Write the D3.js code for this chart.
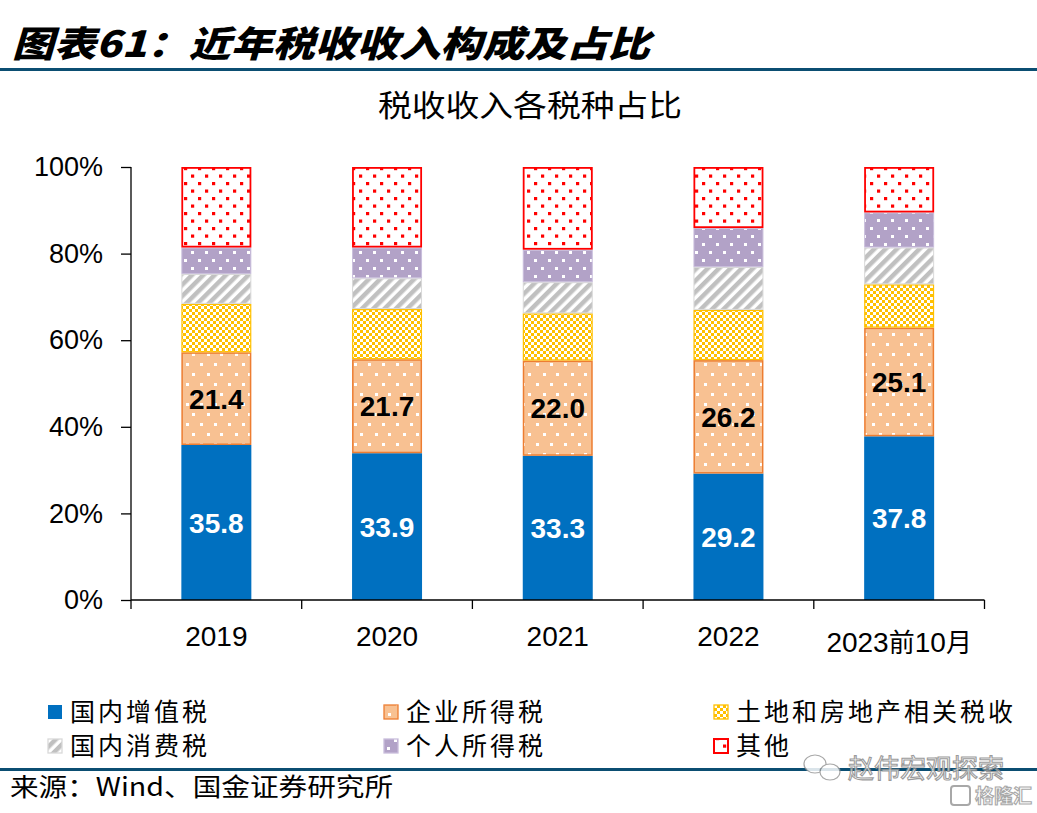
<!DOCTYPE html>
<html><head><meta charset="utf-8">
<script src="https://cdn.jsdelivr.net/npm/d3@7/dist/d3.min.js"></script>
<style>html,body{margin:0;padding:0;background:#fff;}svg{display:block;}</style>
</head><body>
<svg id="chart" width="1037" height="813"></svg>
<script>
// ---- data ----
const categories = ["2019", "2020", "2021", "2022", "2023前10月"];
const seriesNames = ["国内增值税", "企业所得税", "土地和房地产相关税收", "国内消费税", "个人所得税", "其他"];
const vat        = [35.8, 33.9, 33.3, 29.2, 37.8];
const corpTax    = [21.4, 21.7, 22.0, 26.2, 25.1];
const landTax    = [11.2, 11.6, 10.9, 11.6, 10.0];
const consTax    = [6.9, 7.1, 7.2, 9.9, 8.5];
const personTax  = [6.1, 7.1, 7.5, 9.0, 8.1];
const otherTax   = [18.6, 18.6, 19.1, 14.1, 10.5];
const yTicks = [0, 20, 40, 60, 80, 100];
const titleText = "图表61：近年税收收入构成及占比";
const subTitle = "税收收入各税种占比";
const sourceText = "来源：Wind、国金证券研究所";

const keys = ["vat", "corp", "land", "cons", "person", "other"];
const seriesArrays = [vat, corpTax, landTax, consTax, personTax, otherTax];
const table = categories.map((c, i) => {
  const row = {cat: c};
  keys.forEach((k, j) => row[k] = seriesArrays[j][i]);
  return row;
});

const svg = d3.select("#chart");
const defs = svg.append("defs");

// patterns
function dotPattern(id, bg, dot, w, h, pts, sz) {
  const p = defs.append("pattern").attr("id", id).attr("patternUnits", "userSpaceOnUse")
    .attr("width", w).attr("height", h);
  p.append("rect").attr("width", w).attr("height", h).attr("fill", bg);
  pts.forEach(([x, y]) => p.append("rect").attr("x", x).attr("y", y).attr("width", sz).attr("height", sz).attr("fill", dot));
}
dotPattern("pRed", "#ffffff", "#ff0000", 14, 15, [[2, 2], [9, 9.5]], 3.2);
dotPattern("pPurple", "#b2a2c7", "#ffffff", 14, 16, [[2, 3], [9, 11]], 3);
dotPattern("pOrange", "#f8c192", "#ffffff", 28, 20, [[4, 3], [18, 3], [11, 13], [24, 13]], 3);
(function () {
  const p = defs.append("pattern").attr("id", "pYellow").attr("patternUnits", "userSpaceOnUse")
    .attr("width", 6).attr("height", 6);
  p.append("rect").attr("width", 6).attr("height", 6).attr("fill", "#ffffff");
  p.append("rect").attr("width", 3).attr("height", 3).attr("fill", "#ffc000");
  p.append("rect").attr("x", 3).attr("y", 3).attr("width", 3).attr("height", 3).attr("fill", "#ffc000");
})();
(function () {
  const p = defs.append("pattern").attr("id", "pGrey").attr("patternUnits", "userSpaceOnUse")
    .attr("width", 8).attr("height", 8).attr("patternTransform", "rotate(45)");
  p.append("rect").attr("width", 8).attr("height", 8).attr("fill", "#ffffff");
  p.append("rect").attr("width", 4.5).attr("height", 8).attr("fill", "#c0c0c0");
})();

const fills = {vat: "#0070c0", corp: "url(#pOrange)", land: "url(#pYellow)", cons: "url(#pGrey)", person: "url(#pPurple)", other: "url(#pRed)"};
const strokes = {vat: "#0070c0", corp: "#ed7d31", land: "#ffc000", cons: "#d9d9d9", person: "#c9bedc", other: "#ff0000"};
const strokeW = {vat: 0, corp: 1.5, land: 1.2, cons: 1, person: 1, other: 1.8};

// ---- header ----
svg.append("text").attr("x", 12).attr("y", 57).text(titleText)
  .attr("font-family", "'Noto Sans CJK SC'").attr("font-weight", 900).attr("font-style", "italic")
  .attr("font-size", 36).attr("textLength", 638).attr("lengthAdjust", "spacingAndGlyphs").attr("fill", "#000");
svg.append("rect").attr("x", 0).attr("y", 68).attr("width", 1037).attr("height", 3).attr("fill", "#0b4e72");

svg.append("text").attr("x", 530).attr("y", 116).attr("text-anchor", "middle").text(subTitle)
  .attr("font-family", "'Noto Sans CJK SC'").attr("font-size", 30).attr("textLength", 304)
  .attr("lengthAdjust", "spacingAndGlyphs").attr("fill", "#000");

// ---- scales ----
const x = d3.scaleBand().domain(categories).range([131, 984.5]).padding(0);
const y = d3.scaleLinear().domain([0, 100]).range([600, 167]);
const barW = x.bandwidth() * 0.41;

const stack = d3.stack().keys(keys);
const layers = stack(table);

const g = svg.append("g");
layers.forEach(layer => {
  const k = layer.key;
  g.selectAll(null).data(layer).enter().append("rect")
    .attr("x", d => x(d.data.cat) + (x.bandwidth() - barW) / 2 + strokeW[k] / 2)
    .attr("y", d => y(d[1]) + strokeW[k] / 2)
    .attr("width", barW - strokeW[k])
    .attr("height", d => Math.max(0, y(d[0]) - y(d[1]) - strokeW[k]))
    .attr("fill", fills[k])
    .attr("stroke", strokeW[k] ? strokes[k] : "none")
    .attr("stroke-width", strokeW[k]);
});

// value labels
const labelFont = "'Liberation Sans', Arial, sans-serif";
[["vat", "#ffffff"], ["corp", "#000000"]].forEach(([k, col]) => {
  const layer = layers.find(l => l.key === k);
  g.selectAll(null).data(layer).enter().append("text")
    .attr("x", d => x(d.data.cat) + x.bandwidth() / 2)
    .attr("y", d => (y(d[0]) + y(d[1])) / 2)
    .attr("dy", "0.36em")
    .attr("text-anchor", "middle")
    .attr("font-family", labelFont).attr("font-weight", "bold").attr("font-size", 28)
    .attr("fill", col)
    .text(d => (d[1] - d[0]).toFixed(1));
});

// axes
const yAxis = d3.axisLeft(y).tickValues(yTicks).tickFormat(d => d + "%").tickSize(10).tickPadding(18);
const ya = svg.append("g").attr("transform", "translate(131,0)").call(yAxis);
ya.select(".domain").attr("d", "M0,167V600").attr("stroke", "#000").attr("stroke-width", 1.3);
ya.selectAll(".tick line").attr("stroke", "#000").attr("stroke-width", 1.3);
ya.selectAll(".tick text").attr("font-family", labelFont).attr("font-size", 27).attr("fill", "#000");

const xa = svg.append("g").attr("transform", "translate(0,600)");
xa.append("line").attr("x1", 131).attr("x2", 984.5).attr("stroke", "#000").attr("stroke-width", 1.3);
const bounds = categories.map(c => x(c)).concat([x(categories[categories.length - 1]) + x.bandwidth()]);
xa.selectAll(null).data(bounds).enter().append("line")
  .attr("x1", d => d).attr("x2", d => d).attr("y1", 0).attr("y2", 9)
  .attr("stroke", "#000").attr("stroke-width", 1.3);
xa.selectAll(null).data(categories).enter().append("text")
  .attr("x", d => x(d) + x.bandwidth() / 2)
  .attr("y", (d, i) => i === categories.length - 1 ? 52 : 46)
  .attr("text-anchor", "middle")
  .attr("font-family", labelFont).attr("font-size", 28).attr("fill", "#000")
  .each(function (d) {
    const t = d3.select(this);
    const m = d.match(/^(\d{4})(前)(\d+)(月)$/);
    if (m) {
      t.append("tspan").text(m[1]);
      t.append("tspan").text(m[2]).attr("font-family", "'Noto Sans CJK SC'").attr("font-size", 26);
      t.append("tspan").text(m[3]);
      t.append("tspan").text(m[4]).attr("font-family", "'Noto Sans CJK SC'").attr("font-size", 26);
    } else t.text(d);
  });

// legend
const legPos = [[47, 712], [383, 712], [713, 712], [47, 746], [383, 746], [713, 746]];
const legendOrder = ["vat", "corp", "land", "cons", "person", "other"];
const lg = svg.append("g");
legendOrder.forEach((k, i) => {
  const [lx, ly] = legPos[i];
  lg.append("rect").attr("x", lx + 1).attr("y", ly - 7).attr("width", 14).attr("height", 14)
    .attr("fill", fills[k]).attr("stroke", k === "vat" ? "none" : strokes[k]).attr("stroke-width", k === "other" ? 2 : 1.3);
  lg.append("text").attr("x", lx + 23).attr("y", ly).attr("dy", "0.36em")
    .attr("font-family", "'Noto Sans CJK SC'").attr("font-size", 25).attr("letter-spacing", 3)
    .attr("fill", "#000").text(seriesNames[i]);
});

// footer
svg.append("rect").attr("x", 0).attr("y", 768).attr("width", 1037).attr("height", 3).attr("fill", "#0b4e72");
svg.append("text").attr("x", 10).attr("y", 796).text(sourceText)
  .attr("font-family", "'Noto Sans CJK SC'").attr("font-size", 25).attr("textLength", 383)
  .attr("lengthAdjust", "spacingAndGlyphs").attr("fill", "#000");

// watermark
const wm = svg.append("g").attr("opacity", 0.85);
wm.append("ellipse").attr("cx", 815).attr("cy", 764).attr("rx", 11).attr("ry", 9).attr("fill", "#fff").attr("stroke", "#999").attr("stroke-width", 1.2);
wm.append("ellipse").attr("cx", 830).attr("cy", 772).attr("rx", 10).attr("ry", 8).attr("fill", "#fff").attr("stroke", "#999").attr("stroke-width", 1.2);
wm.append("text").attr("x", 848).attr("y", 778).text("赵伟宏观探索")
  .attr("font-family", "'Noto Sans CJK SC'").attr("font-size", 26)
  .attr("fill", "#fff").attr("stroke", "#8a8a8a").attr("stroke-width", 1.1);
wm.append("rect").attr("x", 951).attr("y", 786).attr("width", 19).attr("height", 19).attr("rx", 3)
  .attr("fill", "#fff").attr("stroke", "#9a9a9a").attr("stroke-width", 2);
wm.append("text").attr("x", 975).attr("y", 803).text("格隆汇")
  .attr("font-family", "'Noto Sans CJK SC'").attr("font-size", 19).attr("font-weight", "bold")
  .attr("fill", "#fff").attr("stroke", "#9a9a9a").attr("stroke-width", 1.1);
</script>
</body></html>
